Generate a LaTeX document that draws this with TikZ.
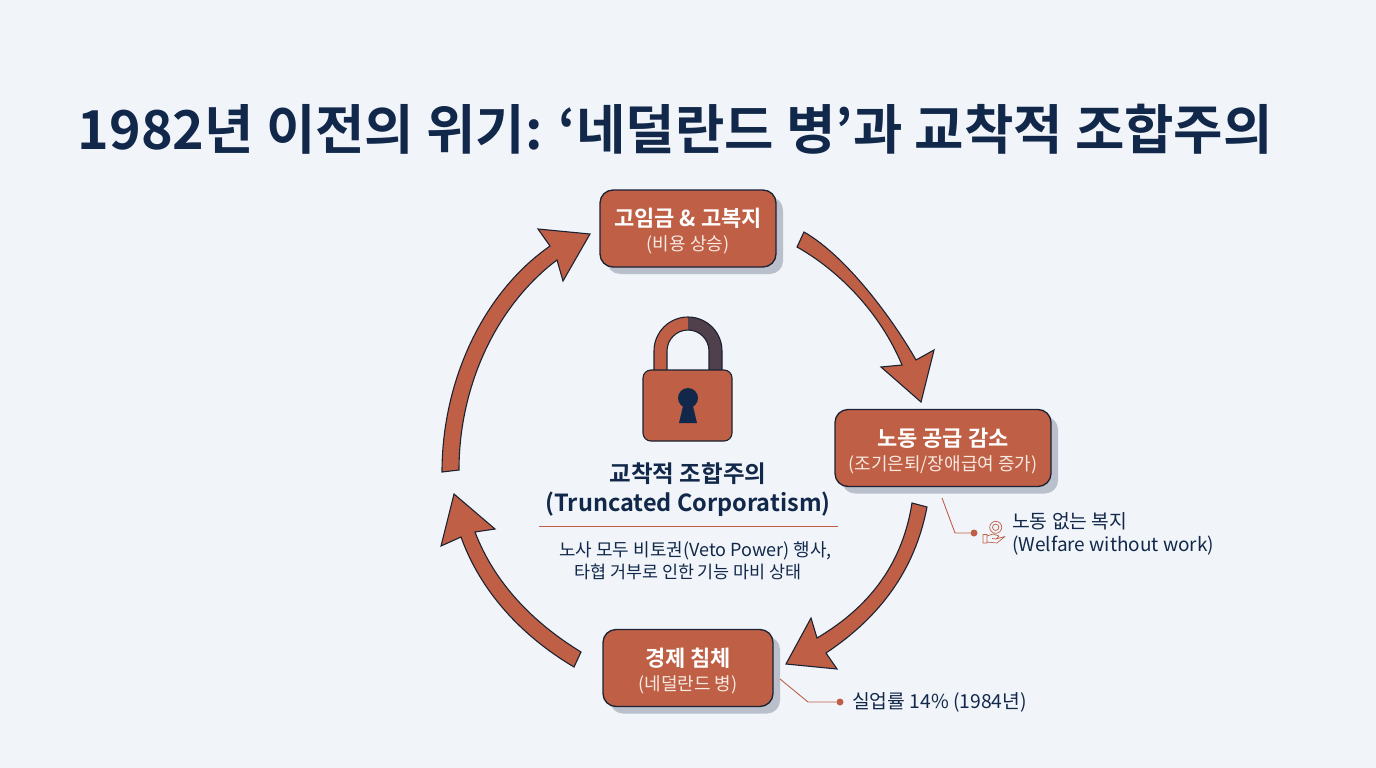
\documentclass[tikz,border=0pt]{standalone}
\usepackage{fontspec}
\setmainfont{Noto Sans CJK KR}[BoldFont={Noto Sans CJK KR Bold}]
\usepackage{xcolor}
\usepackage{tikz}
\usetikzlibrary{shadows}
\definecolor{paper}{HTML}{F1F5FA}
\definecolor{terra}{HTML}{BF6046}
\definecolor{navy}{HTML}{12284A}
\definecolor{edge}{HTML}{1B2233}
\definecolor{shade}{HTML}{B9C0CC}
\definecolor{plum}{HTML}{50404C}
\definecolor{cream}{HTML}{F8E9E2}
\newcommand{\fs}[1]{\fontsize{#1}{#1}\selectfont}
\newcommand{\stage}[2]{\rule{0pt}{24pt}{\bfseries\fs{22}#1}\\[6.5pt]{\color{cream}\fs{18}#2}}

\begin{document}
\begin{tikzpicture}[
      x=1pt, y=-1pt,
      stagebox/.style={draw=edge, line width=1.3pt, fill=terra, rounded corners=13pt,
        text=white, align=center, inner sep=0pt, minimum height=77pt,
        drop shadow={shadow xshift=7pt, shadow yshift=-7pt, fill=shade, opacity=1}},
      flow/.style={draw=edge, line width=1.1pt, fill=terra, line join=miter},
      leader/.style={draw=terra, line width=0.9pt},
      dot/.style={circle, fill=terra, inner sep=0pt, minimum size=7pt},
      note/.style={anchor=west, inner sep=0pt, text=navy, font=\fs{19.3}},
      centre/.style={inner sep=0pt, text=navy, align=center}
    ]
    \fill[paper] (0,0) rectangle (1376,768);
    \useasboundingbox (0,0) rectangle (1376,768);

    % Title
    \node[anchor=west, inner sep=0pt, text=navy, font=\bfseries\fs{53.7}] (title) at (77.5,129.5)
      {1982년 이전의 위기: ‘네덜란드 병’과 교착적 조합주의};

    % Stages
    \node[stagebox, minimum width=176pt] (cost) at (688,228.5)
      {\stage{고임금 \& 고복지}{(비용 상승)}};
    \node[stagebox, minimum width=216pt] (labour) at (943,448)
      {\stage{노동 공급 감소}{(조기은퇴/장애급여 증가)}};
    \node[stagebox, minimum width=170pt] (slump) at (688,668)
      {\stage{경제 침체}{(네덜란드 병)}};

    % Block arrows
    \draw[flow] (804,232) .. controls (846,256) and (892,318) .. (916,360)
      -- (934,350) -- (921,402) -- (881,367) -- (902,365)
      .. controls (880,312) and (838,270) .. (797,247) -- cycle;
    \draw[flow] (927,507) .. controls (915,570) and (880,617) .. (826,653)
      -- (837,669) -- (786,664) -- (811,618) -- (817,638)
      .. controls (873,605) and (903,560) .. (912,503) -- cycle;
    \draw[flow] (581,652) .. controls (532,622) and (494,582) .. (475,532)
      -- (495,529) -- (454,494) -- (441,546) -- (461,537)
      .. controls (480,590) and (520,635) .. (574,667) -- cycle;
    \draw[flow] (442,472) .. controls (442,385) and (480,295) .. (550,246)
      -- (538,229) -- (590,234) -- (563,281) -- (557,260)
      .. controls (497,305) and (459,385) .. (459,470) -- cycle;

    % Lock
    \fill[terra] (654,372) -- (654,351) arc[start angle=180, end angle=270, radius=34]
      -- (688,330) arc[start angle=270, end angle=180, radius=21] -- (667,372) -- cycle;
    \fill[plum] (722,372) -- (722,351) arc[start angle=360, end angle=270, radius=34]
      -- (688,330) arc[start angle=270, end angle=360, radius=21] -- (709,372) -- cycle;
    \draw[edge, line width=1.1pt] (654,372) -- (654,351) arc[start angle=180, end angle=360, radius=34] -- (722,372);
    \draw[edge, line width=1.1pt] (667,372) -- (667,351) arc[start angle=180, end angle=360, radius=21] -- (709,372);
    \draw[flow, rounded corners=8pt] (643,370) rectangle (732,441);
    \fill[navy] (688,398) circle (10);
    \fill[navy] (684,402) -- (679,423) -- (697,423) -- (692,402) -- cycle;

    % Centre text
    \node[centre, font=\bfseries\fs{23.5}] (locktitle) at (688,474) {교착적 조합주의};
    \node[centre, font=\bfseries\fs{23.5}] (lockname) at (688,504.5) {(Truncated Corporatism)};
    \coordinate (ruleleft) at (539,526);
    \coordinate (ruleright) at (838,526);
    \draw[leader] (ruleleft) -- (ruleright);
    \node[centre, font=\fs{18}] (lockline) at (695.5,550.5) {노사 모두 비토권(Veto Power) 행사,};
    \node[centre, font=\fs{17.4}] (lockwhy) at (688,571.5) {타협 거부로 인한 기능 마비 상태};

    % Notes
    \coordinate (labourtick) at (942,498);
    \coordinate (labourbend) at (955,533);
    \node[dot] (labourdot) at (974,533) {};
    \draw[leader] (labourtick) -- (labourbend) -- (labourdot);
    \draw[terra, line width=0.7pt] (995.7,527.3) circle (6) (995.7,527.3) circle (3.2);
    \draw[terra, line width=0.7pt, line join=round] (983,534.5) rectangle (987,543)
      (987,536) -- (993,534) -- (999,536) -- (996,539) -- (992,538.5)
      (996,539) -- (1005,536.5) -- (997,543) -- (987,542);
    \node[note] (welfare) at (1012,521) {노동 없는 복지};
    \node[note, font=\fs{19}] (welfareen) at (1012,546) {(Welfare without work)};

    \coordinate (slumptick) at (780,679);
    \coordinate (slumpbend) at (808,702);
    \node[dot] (slumpdot) at (840,702) {};
    \draw[leader] (slumptick) -- (slumpbend) -- (slumpdot);
    \node[note] (jobless) at (852,702.5) {실업률 14\% (1984년)};
  \end{tikzpicture}
\end{document}
